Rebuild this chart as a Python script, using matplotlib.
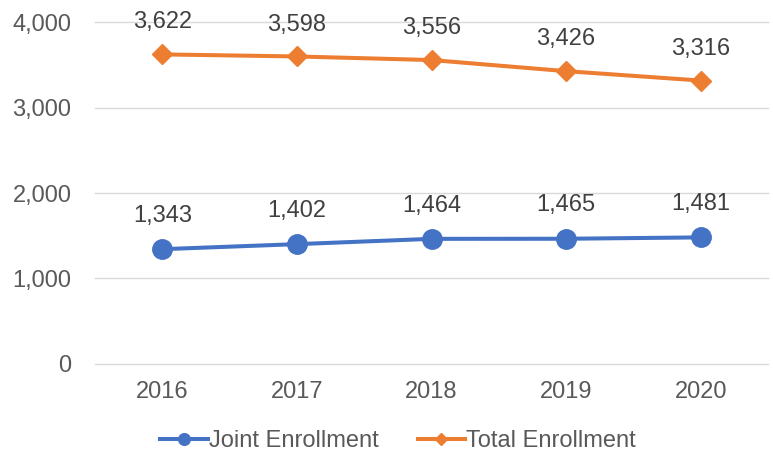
import matplotlib.pyplot as plt

plt.rcParams['font.family'] = ['Liberation Sans', 'DejaVu Sans']

years = ['2016', '2017', '2018', '2019', '2020']
joint = [1343, 1402, 1464, 1465, 1481]
total = [3622, 3598, 3556, 3426, 3316]

fig = plt.figure(figsize=(7.73, 4.51), dpi=100)
ax = fig.add_axes([0.123, 0.193, 0.8705, 0.758])

x = list(range(len(years)))
ax.plot(x, joint, color='#4472C4', linewidth=2.9, marker='o', markersize=14,
        label='Joint Enrollment', zorder=3)
ax.plot(x, total, color='#ED7D31', linewidth=2.9, marker='D', markersize=10,
        label='Total Enrollment', zorder=3)

for xi, v in zip(x, joint):
    ax.annotate('{:,}'.format(v), (xi, v), xytext=(0, 24), textcoords='offset points',
                ha='center', va='center', fontsize=17, color='#404040')
for xi, v in zip(x, total):
    ax.annotate('{:,}'.format(v), (xi, v), xytext=(0, 23), textcoords='offset points',
                ha='center', va='center', fontsize=17, color='#404040')

ax.set_xlim(-0.5, 4.5)
ax.set_ylim(0, 4000)
ax.set_xticks(x)
ax.set_xticklabels(years)
ax.set_yticks([0, 1000, 2000, 3000, 4000])
ax.set_yticklabels(['{:,}'.format(t) for t in [0, 1000, 2000, 3000, 4000]])
ax.tick_params(length=0, labelsize=17, labelcolor='#595959')
ax.tick_params(axis='x', pad=12)
ax.tick_params(axis='y', pad=17)
ax.grid(axis='y', color='#D9D9D9', linewidth=1.0, zorder=0)
ax.set_axisbelow(True)
for gl in ax.get_ygridlines():
    gl.set_clip_on(False)
for s in ax.spines.values():
    s.set_visible(False)

leg = fig.legend(loc='lower center', bbox_to_anchor=(0.515, -0.049), ncol=2, frameon=False,
                 fontsize=17, handlelength=2.0, columnspacing=1.65, handletextpad=0.05,
                 markerscale=0.6)
for t in leg.get_texts():
    t.set_color('#595959')

fig.savefig('out.png', dpi=100)
